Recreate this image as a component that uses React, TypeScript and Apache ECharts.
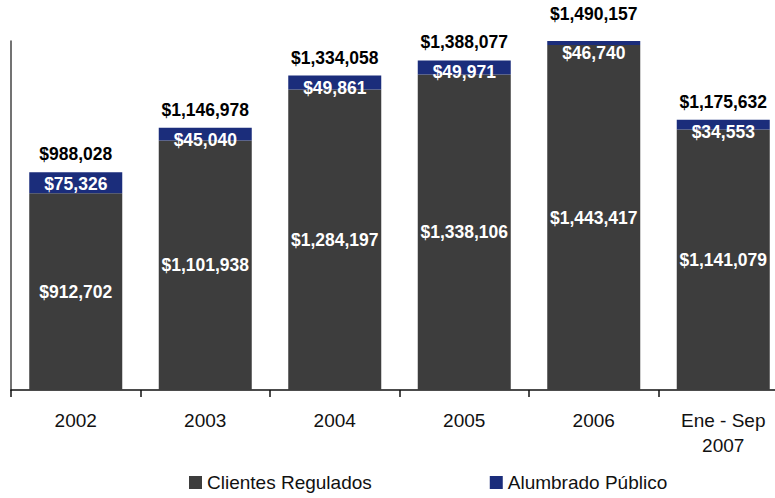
import React, { useEffect, useRef } from "react";
import * as echarts from "echarts";

const categories = ["2002", "2003", "2004", "2005", "2006", "Ene - Sep\n2007"];
const clientesRegulados = [912702, 1101938, 1284197, 1338106, 1443417, 1141079];
const alumbradoPublico = [75326, 45040, 49861, 49971, 46740, 34553];
const totals = [988028, 1146978, 1334058, 1388077, 1490157, 1175632];
const zeros = [0, 0, 0, 0, 0, 0];

const FONT = "'Liberation Sans', Arial, Helvetica, sans-serif";
const DARK = "#3d3d3d";
const BLUE = "#1b2d7b";
const fmt = (v: number) => "$" + v.toLocaleString("en-US");

export default function App() {
  const ref = useRef<HTMLDivElement>(null);
  useEffect(() => {
    if (!ref.current) return;
    const chart = echarts.init(ref.current, undefined, { renderer: "svg" });
    chart.setOption({
      animation: false,
      backgroundColor: "#ffffff",
      textStyle: { fontFamily: FONT },
      grid: { left: 11, right: 2, top: 41, bottom: 108 },
      legend: {
        left: 184,
        top: 468,
        itemWidth: 13,
        itemHeight: 13,
        itemGap: 118,
        icon: "rect",
        textStyle: { fontSize: 19, color: "#111", fontFamily: FONT },
        data: ["Clientes Regulados", "Alumbrado Público"],
      },
      xAxis: {
        type: "category",
        data: categories,
        axisLine: { lineStyle: { color: "#111", width: 1.6 } },
        axisTick: { show: true, length: 7, lineStyle: { color: "#111", width: 1.5 } },
        axisLabel: {
          color: "#111",
          fontSize: 19,
          lineHeight: 25,
          margin: 18,
          fontFamily: FONT,
          interval: 0,
        },
      },
      yAxis: {
        type: "value",
        min: 208700,
        max: 1457800,
        axisLine: { show: true, lineStyle: { color: "#444", width: 1.5 } },
        axisTick: { show: false },
        axisLabel: { show: false },
        splitLine: { show: false },
      },
      series: [
        {
          name: "Clientes Regulados",
          type: "bar",
          stack: "total",
          barWidth: 93,
          data: clientesRegulados,
          itemStyle: { color: DARK },
          label: {
            show: true,
            position: "inside",
            color: "#ffffff",
            fontWeight: "bold",
            fontSize: 17.5,
            fontFamily: FONT,
            formatter: (p: any) => fmt(p.value),
          },
        },
        {
          name: "Alumbrado Público",
          type: "bar",
          stack: "total",
          barWidth: 93,
          data: alumbradoPublico,
          itemStyle: { color: BLUE },
          label: {
            show: true,
            position: "insideTop",
            distance: 3,
            color: "#ffffff",
            fontWeight: "bold",
            fontSize: 17.5,
            fontFamily: FONT,
            formatter: (p: any) => fmt(p.value),
          },
        },
        {
          name: "Total",
          type: "bar",
          stack: "total",
          barWidth: 93,
          clip: false,
          data: zeros,
          itemStyle: { color: "transparent" },
          label: {
            show: true,
            position: "top",
            distance: 9,
            color: "#000000",
            fontWeight: "bold",
            fontSize: 17.5,
            fontFamily: FONT,
            formatter: (p: any) => fmt(totals[p.dataIndex]),
          },
        },
      ],
    });
    return () => chart.dispose();
  }, []);
  return (
    <div
      ref={ref}
      style={{ position: "fixed", left: 0, top: 0, width: 790, height: 498 }}
    />
  );
}
